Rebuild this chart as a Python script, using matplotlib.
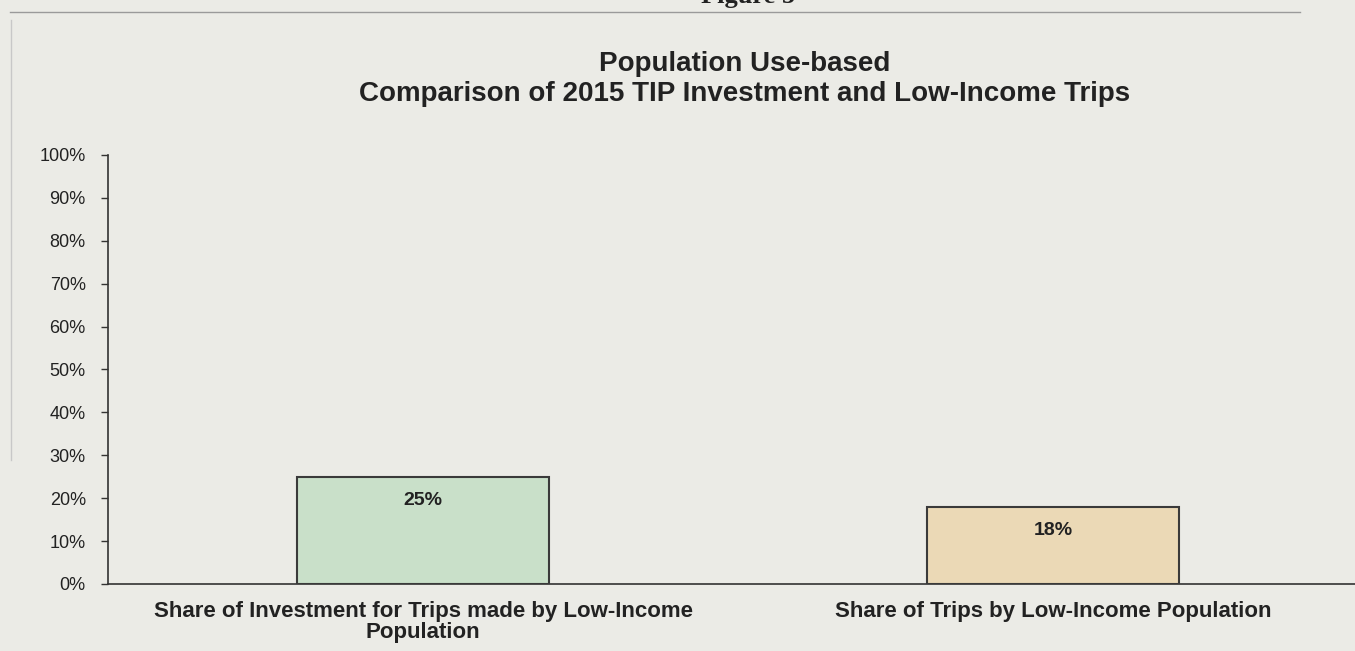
import matplotlib.pyplot as plt
from matplotlib.lines import Line2D

# data
categories = ["Share of Investment for Trips made by Low-Income\nPopulation",
              "Share of Trips by Low-Income Population"]
values = [25, 18]
value_labels = ["25%", "18%"]
bar_colors = ["#c9e0c9", "#ebd9b6"]
yticks = list(range(0, 101, 10))

bg = "#ebebe6"
dark = "#333333"
font = "Liberation Sans"

fig = plt.figure(figsize=(13.55, 6.51), dpi=100, facecolor=bg)
ax = fig.add_axes([108 / 1355, 67 / 651, 1247 / 1355, 429 / 651], facecolor=bg)

x = list(range(len(categories)))
ax.bar(x, values, width=0.4, color=bar_colors, edgecolor="#3a3a3a", linewidth=1.5, zorder=3)

# value labels near the top inside each bar
for xi, v, lab in zip(x, values, value_labels):
    ax.text(xi, v - 5.6, lab, ha="center", va="center", fontsize=14,
            fontweight="bold", color="#222222", family=font)

ax.set_xlim(-0.5, -0.5 + 1247 / 630)
ax.set_ylim(0, 100)
ax.set_yticks(yticks)
ax.set_yticklabels([f"{t}%" for t in yticks], fontsize=13, color="#222222", family=font)
ax.set_xticks(x)
ax.set_xticklabels(categories, fontsize=16, fontweight="bold", color="#222222",
                   family=font, linespacing=1.0)
ax.tick_params(axis="y", length=5, width=1, color=dark, pad=11)
ax.tick_params(axis="x", length=0, pad=12)

for s in ["top", "right"]:
    ax.spines[s].set_visible(False)
for s in ["left", "bottom"]:
    ax.spines[s].set_color(dark)
    ax.spines[s].set_linewidth(1.2)

# title
fig.text(745 / 1355, 1 - 64 / 651, "Population Use-based", ha="center", va="center",
         fontsize=20, fontweight="bold", color="#222222", family=font)
fig.text(745 / 1355, 1 - 94 / 651, "Comparison of 2015 TIP Investment and Low-Income Trips",
         ha="center", va="center", fontsize=20, fontweight="bold", color="#222222",
         family=font)

# page heading cut off at the top of the scan, plus the page rule
fig.text(748 / 1355, 1.005, "Figure 5", ha="center", va="center", fontsize=19,
         fontweight="bold", family="Liberation Serif", color="#222222", clip_on=True)
fig.add_artist(Line2D([10 / 1355, 1300 / 1355], [1 - 12 / 651, 1 - 12 / 651],
                      transform=fig.transFigure, color="#9a9a9a", linewidth=1))
fig.add_artist(Line2D([11 / 1355, 11 / 1355], [1 - 20 / 651, 1 - 460 / 651],
                      transform=fig.transFigure, color="#c8c8c8", linewidth=1))

fig.savefig("out.png", dpi=100, facecolor=bg)
